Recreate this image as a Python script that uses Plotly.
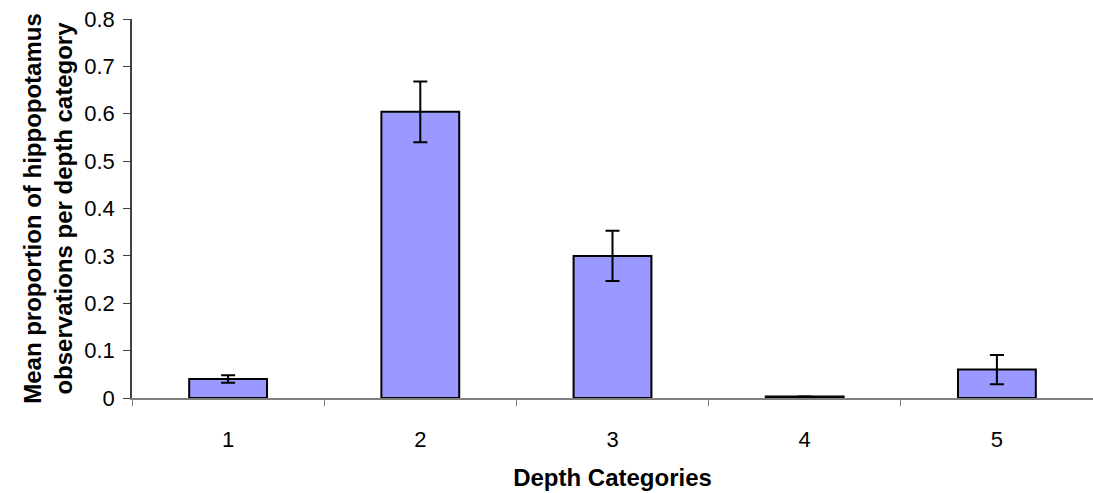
import plotly.graph_objects as go

categories = ["1", "2", "3", "4", "5"]
means = [0.040, 0.604, 0.300, 0.003, 0.060]
errors = [0.008, 0.064, 0.053, 0.0, 0.031]
y_ticks = [0, 0.1, 0.2, 0.3, 0.4, 0.5, 0.6, 0.7, 0.8]
y_tick_text = ["0", "0.1", "0.2", "0.3", "0.4", "0.5", "0.6", "0.7", "0.8"]

fig = go.Figure()
fig.add_trace(go.Bar(
    x=categories, y=means, width=0.405,
    marker=dict(color="#9999FF", line=dict(color="black", width=2)),
    error_y=dict(type="data", array=errors, visible=True, color="black", thickness=2, width=7),
))

fig.update_layout(
    width=1093, height=493,
    margin=dict(l=132, r=0, t=19, b=95),
    plot_bgcolor="white", paper_bgcolor="white",
    font=dict(family="Arial, Liberation Sans", color="black"),
    showlegend=False,
)
fig.update_xaxes(
    type="category",
    showline=True, linecolor="#808080", linewidth=2,
    ticks="outside", tickson="boundaries", ticklen=6, tickcolor="#808080", tickwidth=1,
    tickfont=dict(size=22), ticklabelstandoff=21,
    title=dict(text="<b>Depth Categories</b>", font=dict(size=24), standoff=18),
    showgrid=False,
)
fig.update_yaxes(
    range=[0, 0.8],
    tickvals=y_ticks, ticktext=y_tick_text,
    showline=True, linecolor="#404040", linewidth=1.5,
    ticks="outside", ticklen=7, tickcolor="#404040",
    tickfont=dict(size=22), ticklabelstandoff=4,
    title=dict(text="<b>Mean proportion of hippopotamus<br>observations per depth category</b>", font=dict(size=24), standoff=5),
    showgrid=False, zeroline=False,
)

fig.write_html("out.html", config={"displayModeBar": False},
               post_script="document.body.style.margin='0';")
